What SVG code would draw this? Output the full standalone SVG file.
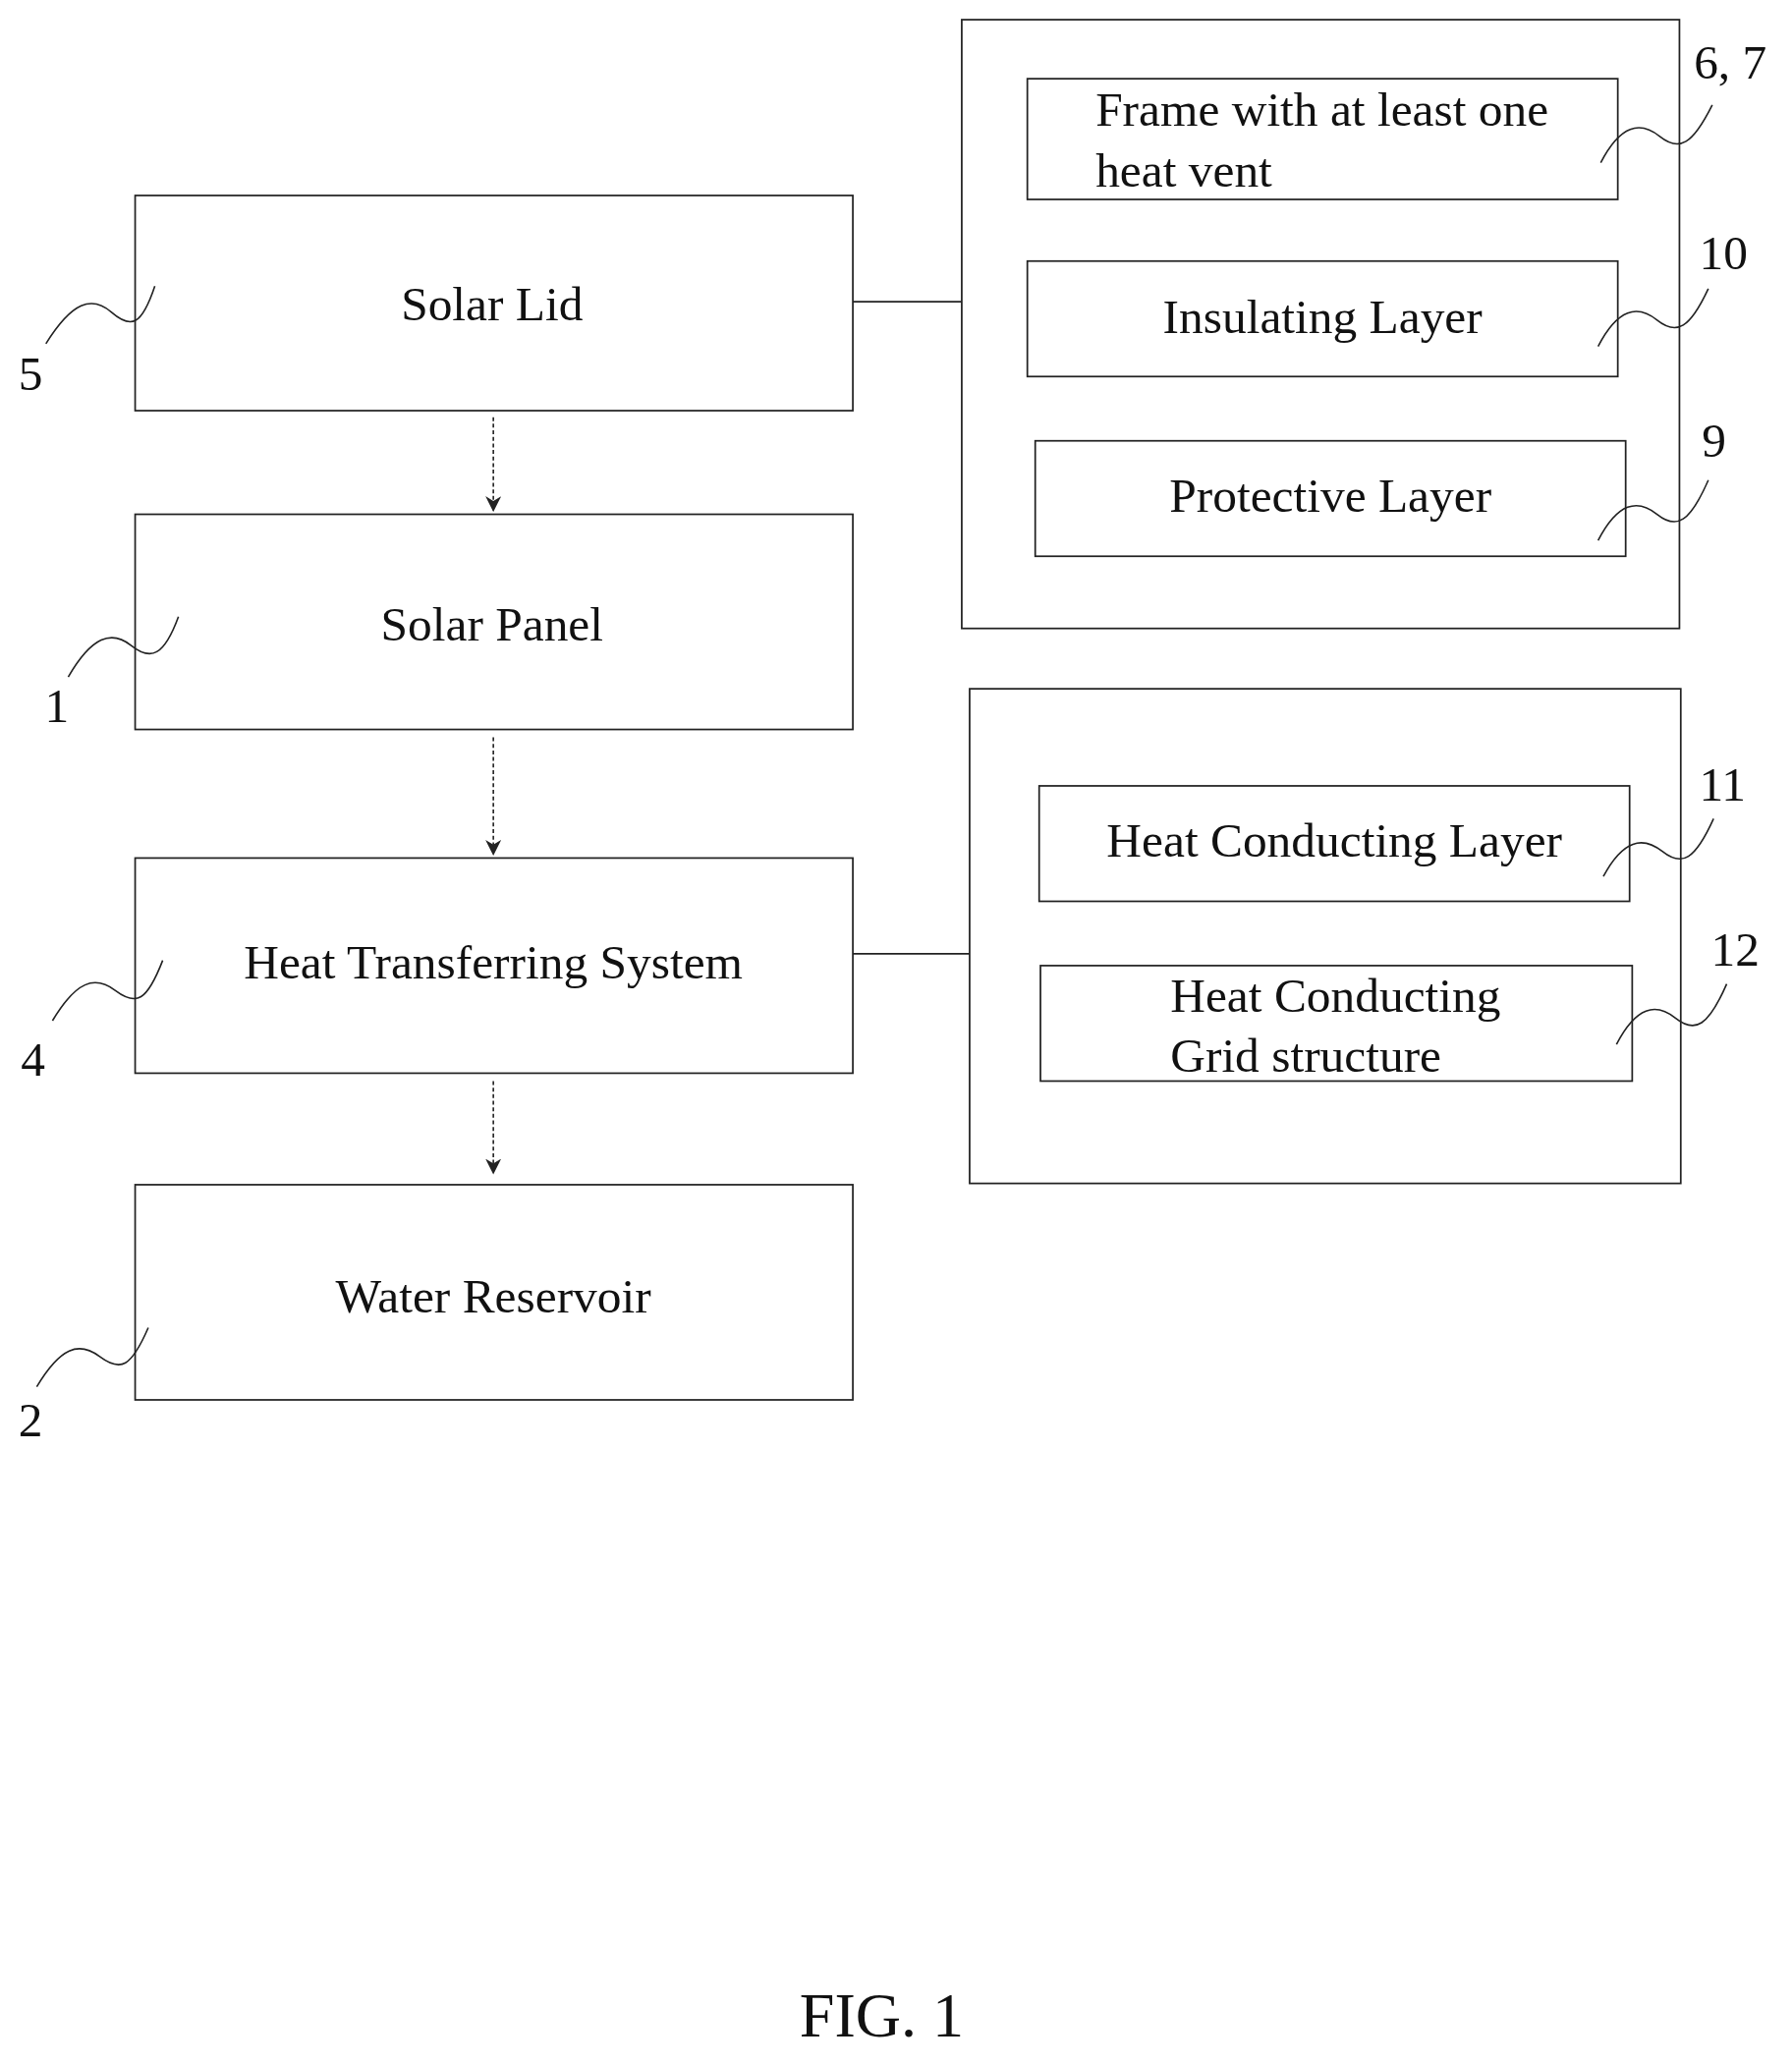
<svg xmlns="http://www.w3.org/2000/svg" width="1824" height="2101" viewBox="0 0 1824 2101">
<defs>
<style>
.b{fill:none;stroke:#222;stroke-width:1.3}
.t{font-family:"Liberation Serif","Times New Roman",serif;font-size:37px;fill:#111}
.m{text-anchor:middle}
.c{fill:none;stroke:#222;stroke-width:1.2}
.d{fill:none;stroke:#222;stroke-width:1.2;stroke-dasharray:3,2}
</style>
<marker id="a" viewBox="0 0 10 10" refX="9" refY="5" markerWidth="12" markerHeight="12" orient="auto" markerUnits="userSpaceOnUse"><path d="M0,0 L10,5 L0,10 L3,5 Z" fill="#222"/></marker>
</defs>
<rect width="1824" height="2101" fill="#fff"/>
<g transform="scale(1.3355)">
<g id="connectors">
<path class="d" d="M376,318 V389" marker-end="url(#a)"/>
<path class="d" d="M376,562 V651" marker-end="url(#a)"/>
<path class="d" d="M376,824 V894" marker-end="url(#a)"/>
<path class="c" d="M650,230 H733"/>
<path class="c" d="M650,727 H739"/>
</g>
<g id="solar-lid"><rect class="b" x="103" y="149" width="547" height="164"/><text class="t m" x="375" y="244">Solar Lid</text>
<path class="c" d="M35,262 C55,230 70,225 85,238 S108,248 118,218"/><text class="t" x="14" y="297">5</text></g>
<g id="solar-panel"><rect class="b" x="103" y="392" width="547" height="164"/><text class="t m" x="375" y="488">Solar Panel</text>
<path class="c" d="M52,516 C70,485 85,480 100,492 S125,500 136,470"/><text class="t" x="34" y="550">1</text></g>
<g id="heat-transfer"><rect class="b" x="103" y="654" width="547" height="164"/><text class="t m" x="376" y="746">Heat Transferring System</text>
<path class="c" d="M40,778 C58,748 72,743 88,755 S112,763 124,732"/><text class="t" x="16" y="820">4</text></g>
<g id="water-reservoir"><rect class="b" x="103" y="903" width="547" height="164"/><text class="t m" x="376" y="1000">Water Reservoir</text>
<path class="c" d="M28,1057 C46,1027 60,1022 76,1034 S100,1042 113,1012"/><text class="t" x="14" y="1095">2</text></g>
<g id="lid-group"><rect class="b" x="733" y="15" width="547" height="464"/>
<g id="frame"><rect class="b" x="783" y="60" width="450" height="92"/><text class="t" x="835" y="96">Frame with at least one</text><text class="t" x="835" y="142">heat vent</text>
<path class="c" d="M1220,124 C1235,95 1250,92 1265,104 S1290,110 1305,80"/><text class="t" x="1291" y="60">6, 7</text></g>
<g id="insulating"><rect class="b" x="783" y="199" width="450" height="88"/><text class="t m" x="1008" y="254">Insulating Layer</text>
<path class="c" d="M1218,264 C1233,235 1248,232 1263,244 S1288,250 1302,220"/><text class="t" x="1295" y="205">10</text></g>
<g id="protective"><rect class="b" x="789" y="336" width="450" height="88"/><text class="t m" x="1014" y="390">Protective Layer</text>
<path class="c" d="M1218,412 C1233,383 1248,380 1263,392 S1288,398 1302,366"/><text class="t" x="1297" y="348">9</text></g>
</g>
<g id="heat-group"><rect class="b" x="739" y="525" width="542" height="377"/>
<g id="conducting-layer"><rect class="b" x="792" y="599" width="450" height="88"/><text class="t m" x="1017" y="653">Heat Conducting Layer</text>
<path class="c" d="M1222,668 C1237,640 1252,637 1267,649 S1292,655 1306,624"/><text class="t" x="1295" y="610">11</text></g>
<g id="grid"><rect class="b" x="793" y="736" width="451" height="88"/><text class="t" x="892" y="771">Heat Conducting</text><text class="t" x="892" y="817">Grid structure</text>
<path class="c" d="M1232,796 C1247,767 1262,764 1277,776 S1302,782 1316,750"/><text class="t" x="1304" y="736">12</text></g>
</g>
<text class="t m" x="672" y="1552" style="font-size:48px">FIG. 1</text>
</g>
</svg>
